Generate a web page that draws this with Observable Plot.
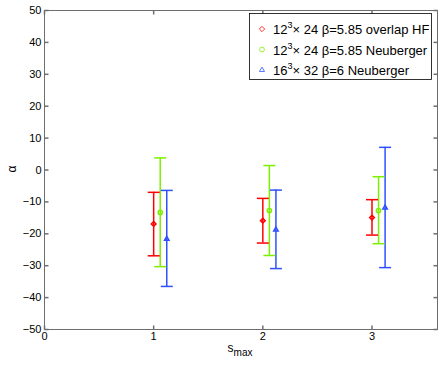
<!DOCTYPE html>
<html><head><meta charset="utf-8">
<script src="https://cdn.jsdelivr.net/npm/d3@7"></script>
<script src="https://cdn.jsdelivr.net/npm/@observablehq/plot@0.6"></script>
<style>body{margin:0;background:#fff}</style>
</head><body><div id="chart"></div>
<script>
const seriesNames = ["12³× 24 β=5.85 overlap HF", "12³× 24 β=5.85 Neuberger", "16³× 32 β=6 Neuberger"];
const seriesColors = ["#ff0000", "#7cf000", "#3050ff"];
const seriesSymbols = ["diamond2", "circle", "triangle2"];
const xRed = [1, 2, 3];
const xGreen = [1.06, 2.06, 3.06];
const xBlue = [1.12, 2.12, 3.12];
const yRed = [-16.9, -15.9, -14.9];
const loRed = [-26.9, -22.9, -20.4];
const hiRed = [-7.0, -8.9, -9.3];
const yGreen = [-13.3, -12.7, -12.7];
const loGreen = [-30.3, -26.8, -23.1];
const hiGreen = [3.8, 1.4, -2.1];
const yBlue = [-21.6, -18.7, -11.8];
const loBlue = [-36.5, -30.9, -30.6];
const hiBlue = [-6.4, -6.3, 7.1];
const xTicks = [0, 1, 2, 3];
const yTicks = [-50, -40, -30, -20, -10, 0, 10, 20, 30, 40, 50];

const xs = [xRed, xGreen, xBlue], ys = [yRed, yGreen, yBlue], los = [loRed, loGreen, loBlue], his = [hiRed, hiGreen, hiBlue];
const data = [];
for (let s = 0; s < 3; s++) for (let i = 0; i < 3; i++)
  data.push({s, x: xs[s][i], y: ys[s][i], lo: los[s][i], hi: his[s][i]});

const rad = size => Math.sqrt(size / Math.PI);
const hLine = {draw(c, size){ const r = rad(size); c.moveTo(-r, 0); c.lineTo(r, 0); }};
const tickUp = {draw(c, size){ const r = rad(size); c.moveTo(0, 0); c.lineTo(0, -r); }};
const tickDown = {draw(c, size){ const r = rad(size); c.moveTo(0, 0); c.lineTo(0, r); }};
const tickRight = {draw(c, size){ const r = rad(size); c.moveTo(0, 0); c.lineTo(r, 0); }};
const tickLeft = {draw(c, size){ const r = rad(size); c.moveTo(0, 0); c.lineTo(-r, 0); }};
const gray = "#6e6e6e";
const font = "Liberation Sans, Arial, sans-serif";

const plot = Plot.plot({
  width: 442, height: 366,
  marginLeft: 44, marginRight: 5, marginTop: 10, marginBottom: 37,
  style: {fontFamily: font, fontSize: "11px", color: "#000", background: "#fff"},
  x: {domain: [0, 3.6]},
  y: {domain: [-50, 50]},
  marks: [
    Plot.frame({stroke: gray}),
    Plot.axisX({ticks: xTicks, tickSize: 0, tickPadding: 3, label: null, fill: "#000", tickFormat: d3.format("d")}),
    Plot.axisY({ticks: yTicks, tickSize: 0, tickPadding: 3, label: null, fill: "#000", tickFormat: d => d < 0 ? "\u2212" + Math.abs(d) : String(d)}),
    Plot.dot(xTicks, {x: d => d, frameAnchor: "bottom", symbol: tickUp, r: 4, stroke: gray, fill: "none"}),
    Plot.dot(xTicks, {x: d => d, frameAnchor: "top", symbol: tickDown, r: 4, stroke: gray, fill: "none"}),
    Plot.dot(yTicks, {y: d => d, frameAnchor: "left", symbol: tickRight, r: 4, stroke: gray, fill: "none"}),
    Plot.dot(yTicks, {y: d => d, frameAnchor: "right", symbol: tickLeft, r: 4, stroke: gray, fill: "none"}),
    Plot.ruleX(data, {x: "x", y1: "lo", y2: "hi", stroke: d => seriesColors[d.s], strokeWidth: 1.5}),
    Plot.dot(data, {x: "x", y: "lo", symbol: hLine, r: 6, stroke: d => seriesColors[d.s], strokeWidth: 1.5, fill: "none"}),
    Plot.dot(data, {x: "x", y: "hi", symbol: hLine, r: 6, stroke: d => seriesColors[d.s], strokeWidth: 1.5, fill: "none"}),
    Plot.dot(data, {x: "x", y: "y", symbol: d => seriesSymbols[d.s], r: 2.1, stroke: d => seriesColors[d.s], strokeWidth: 1.5, fill: "none"})
  ]
});
document.getElementById("chart").appendChild(plot);

const svg = d3.select(plot);
// axis labels
const xl = svg.append("text").attr("x", 240).attr("y", 352).attr("text-anchor", "middle")
  .attr("font-family", font).attr("font-size", 12);
xl.append("tspan").text("s");
xl.append("tspan").attr("dy", 4).attr("font-size", 10).text("max");
svg.append("text").attr("transform", "translate(16,169) rotate(-90)").attr("text-anchor", "middle")
  .attr("font-family", font).attr("font-size", 12).text("α");

// legend
const lg = svg.append("g").attr("text-anchor", "start");
lg.append("rect").attr("x", 249.5).attr("y", 13.5).attr("width", 182).attr("height", 66)
  .attr("fill", "#fff").attr("stroke", "#000").attr("stroke-width", 0.8);
const legendSym = [d3.symbolDiamond2, d3.symbolCircle, d3.symbolTriangle2];
seriesNames.forEach((name, i) => {
  const yy = 29 + i * 20.5;
  lg.append("path").attr("d", d3.symbol(legendSym[i], 18)()).attr("transform", `translate(262,${yy})`)
    .attr("fill", "none").attr("stroke", seriesColors[i]).attr("stroke-width", 0.8);
  const t = lg.append("text").attr("x", 273).attr("y", yy + 5).attr("font-family", font).attr("font-size", 13).attr("text-anchor", "start");
  const m = name.match(/^(\d+)(³)(.*)$/);
  t.append("tspan").text(m[1]);
  t.append("tspan").attr("font-size", 9).attr("dy", -6).text("3");
  t.append("tspan").attr("dy", 6).text(m[3]);
});
</script></body></html>
